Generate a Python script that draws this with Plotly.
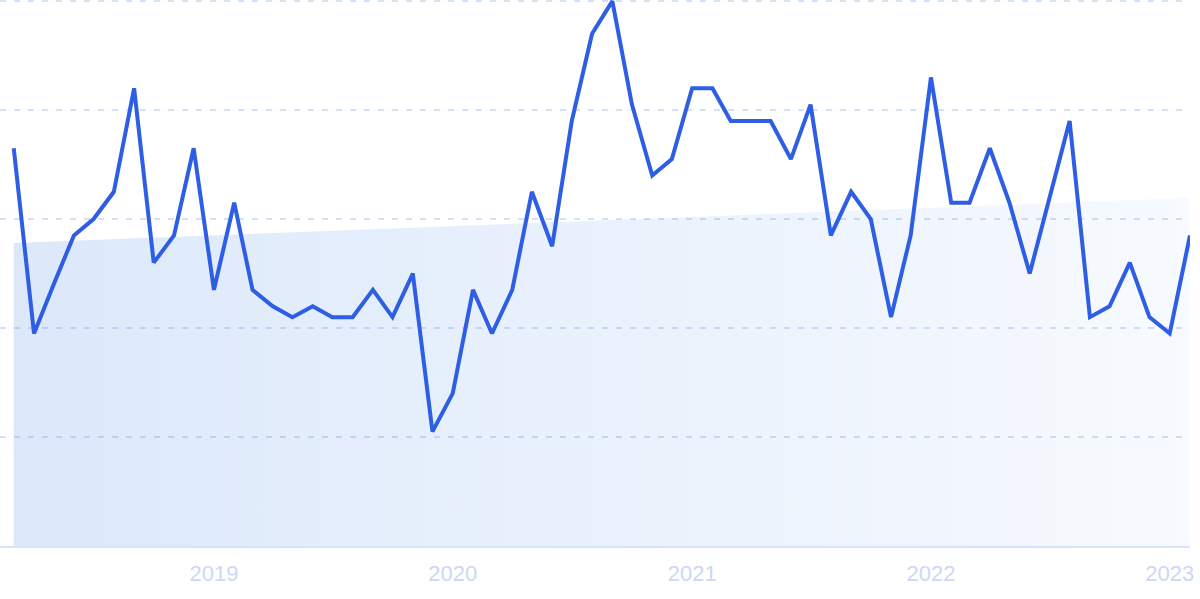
import plotly.graph_objects as go
import pandas as pd

# Monthly index values (0-100 scale), Mar 2018 .. Feb 2023
months = pd.date_range("2018-03-01", periods=60, freq="MS")
values = [73, 39, 48, 57, 60, 65, 84, 52, 57, 73,
          47, 63, 47, 44, 42, 44, 42, 42, 47, 42,
          50, 21, 28, 47, 39, 47, 65, 55, 78, 94,
          100, 81, 68, 71, 84, 84, 78, 78, 78, 71,
          81, 57, 65, 60, 42, 57, 86, 63, 63, 73,
          63, 50, 64, 78, 42, 44, 52, 42, 39, 57]

# Trend band endpoints
trend_start = 55.6
trend_end = 63.9

tick_dates = ["2019-01-01", "2020-01-01", "2021-01-01", "2022-01-01", "2023-01-01"]
tick_labels = ["2019", "2020", "2021", "2022", "2023"]

fig = go.Figure()

fig.add_trace(go.Scatter(
    x=[months[0], months[-1]],
    y=[trend_start, trend_end],
    mode="lines",
    line=dict(width=0),
    fill="tozeroy",
    fillgradient=dict(
        type="horizontal",
        colorscale=[[0, "rgba(60,130,230,0.18)"], [1, "rgba(60,130,230,0.04)"]],
    ),
    hoverinfo="skip",
    showlegend=False,
))

fig.add_trace(go.Scatter(
    x=months,
    y=values,
    mode="lines",
    line=dict(color="#2e5ee4", width=4),
    showlegend=False,
))

fig.update_layout(
    width=1200,
    height=599,
    margin=dict(l=0, r=10, t=0, b=53),
    paper_bgcolor="white",
    plot_bgcolor="white",
    xaxis=dict(
        range=["2018-02-08", "2023-02-01"],
        tickvals=tick_dates,
        ticktext=tick_labels,
        showgrid=False,
        zeroline=False,
        showline=True,
        linecolor="#d3e4fb",
        linewidth=1.5,
        ticks="",
        ticklabelstandoff=7,
        tickfont=dict(family="Liberation Sans, Arial, sans-serif", size=22, color="#cdd7f5"),
    ),
    yaxis=dict(
        range=[0, 100.2],
        tickvals=[0, 20, 40, 60, 80, 100],
        showticklabels=False,
        showgrid=True,
        gridcolor="#d3e2fa",
        gridwidth=1.5,
        griddash="6px,8px",
        zeroline=False,
        showline=False,
        ticks="",
    ),
)

fig.write_html(
    "out.html",
    config={"displayModeBar": False},
    post_script="document.body.style.margin='0px';document.body.style.overflow='hidden';",
)
